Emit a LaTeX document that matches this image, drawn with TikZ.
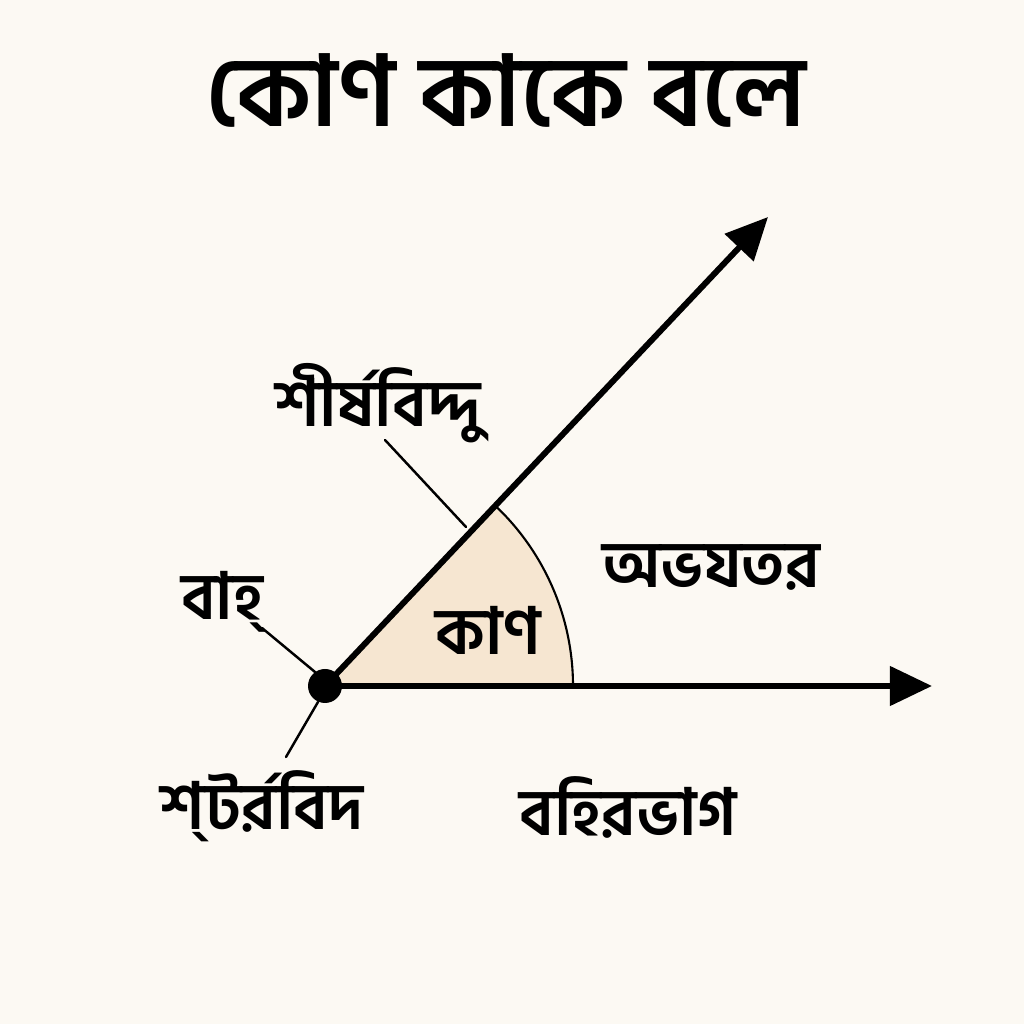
\documentclass[tikz,border=0pt]{standalone}
\usepackage{fontspec}
\usetikzlibrary{arrows.meta}
\newfontfamily\bn[Script=Bengali]{Hind Siliguri}
\definecolor{bgc}{HTML}{FCF9F3}
\definecolor{sectorc}{HTML}{F6E6D1}
\tikzset{
  ray/.style={line width=3.4pt, -{Triangle[length=24pt,width=22pt]}},
  leader/.style={line width=1.4pt, line cap=round},
  lbl/.style={anchor=base, inner sep=0pt, font=\bn\bfseries\fontsize{37}{40}\selectfont},
  ttl/.style={anchor=base, inner sep=0pt, font=\bn\bfseries\fontsize{56}{60}\selectfont}
}
\begin{document}
\begin{tikzpicture}[x=0.02cm,y=0.02cm]
\fill[bgc] (0,0) rectangle (1024,1024);
\useasboundingbox (0,0) rectangle (1024,1024);
\coordinate (v) at (325,338);
\coordinate (htip) at (932,338);
\coordinate (dtip) at (768,807);
\coordinate (arcstart) at (573,338);
% sector
\fill[sectorc] (v) -- (arcstart) arc[start angle=0,end angle=46.6,radius=248] -- cycle;
\draw[line width=1.2pt] (arcstart) arc[start angle=0,end angle=46.6,radius=248];
% rays
\draw[ray] (v) -- (htip);
\draw[ray] (v) -- (dtip);
\fill (v) circle[radius=17];
% leaders
\coordinate (l1a) at (385,584); \coordinate (l1b) at (466,497);
\coordinate (l2a) at (262,396); \coordinate (l2b) at (315,352);
\coordinate (l3a) at (318,322); \coordinate (l3b) at (286,267);
\draw[leader] (l1a) -- (l1b);
\draw[leader] (l2a) -- (l2b);
\draw[leader] (l3a) -- (l3b);
% texts
\node[ttl] (title) at (506,897) {কোণ কাকে বলে};
\node[lbl] (vertex) at (378,597) {শীর্ষবিদ্দু};
\node[lbl] (inner) at (711,436) {অভযতর};
\node[lbl] (arm) at (222,404) {বাহ্};
\node[lbl] (angle) at (488,369) {কাণ};
\node[lbl] (vertex2) at (262,194) {শ্টর্রবিদ};
\node[lbl] (outer) at (628,188) {বহিরভাগ};
\end{tikzpicture}
\end{document}
